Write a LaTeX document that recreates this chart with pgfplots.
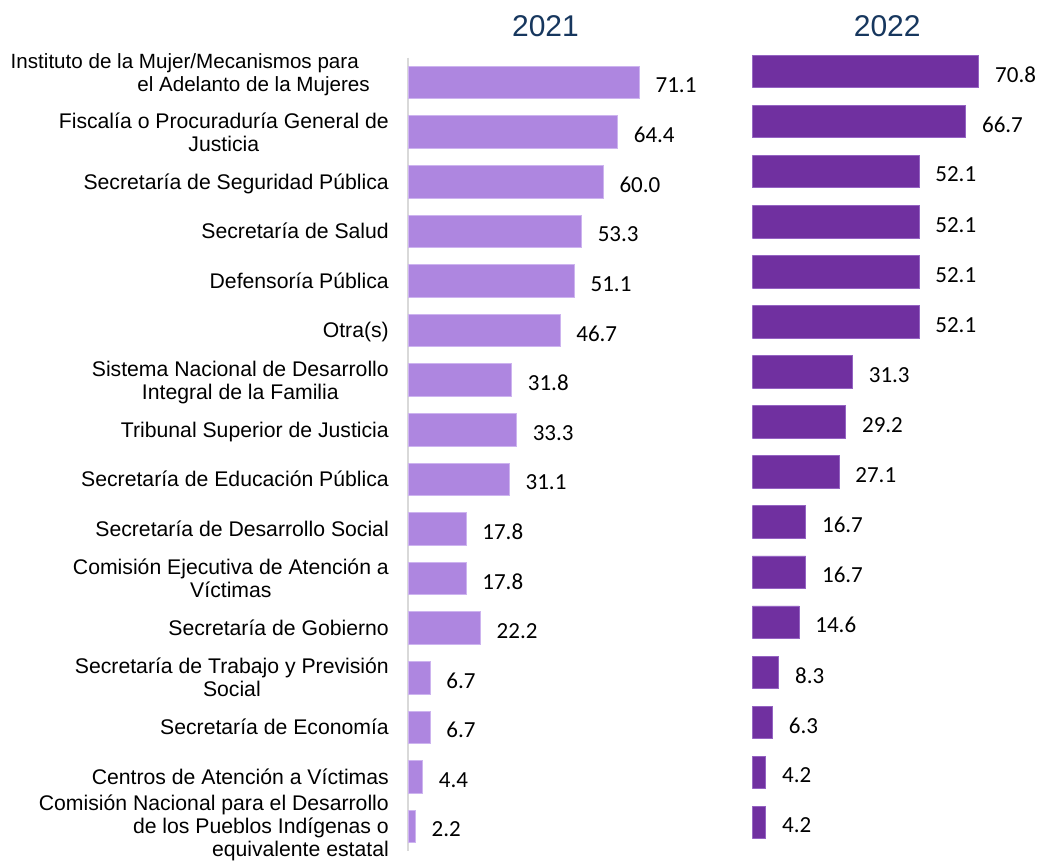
\documentclass[border=0pt]{standalone}
\usepackage{fontspec}
\setmainfont{Liberation Sans}
\newfontfamily\valfont{Carlito}
\usepackage{pgfplots}
\usepackage{pgfplotstable}
\pgfplotsset{compat=1.18}

\definecolor{bar21}{HTML}{AE86E0}
\definecolor{edge21}{HTML}{CDB4EF}
\definecolor{bar22}{HTML}{7030A0}
\definecolor{edge22}{HTML}{9463C2}
\definecolor{titleblue}{HTML}{17375E}
\definecolor{axisgray}{HTML}{D9D9D9}

% centred / right aligned multi-line category labels
\newcommand{\lc}[1]{\begin{tabular}{@{}c@{}}#1\end{tabular}}
\newcommand{\lr}[1]{\begin{tabular}{@{}r@{}}#1\end{tabular}}

\pgfplotstableread{
idx v21  v22
0   71.1 70.8
1   64.4 66.7
2   60.0 52.1
3   53.3 52.1
4   51.1 52.1
5   46.7 52.1
6   31.8 31.3
7   33.3 29.2
8   31.1 27.1
9   17.8 16.7
10  17.8 16.7
11  22.2 14.6
12  6.7  8.3
13  6.7  6.3
14  4.4  4.2
15  2.2  4.2
}\datatab

\pgfplotsset{
  panel/.style={
    xbar, scale only axis, enlargelimits=false,
    xmin=0, xmax=80, ymin=-0.5, ymax=15.5, y dir=reverse,
    xtick=\empty, bar width=32.5pt,
    point meta=x,
    nodes near coords={\pgfmathprintnumber[fixed,fixed zerofill,precision=1,assume math mode=true]{\pgfplotspointmeta}},
    every node near coord/.append style={font=\valfont\fontsize{23}{27}\selectfont,
      anchor=west, inner sep=0pt, xshift=16pt, yshift=-3pt, text=black},
  }
}

\begin{document}
\begin{tikzpicture}[x=1pt,y=1pt]
\useasboundingbox (0,0) rectangle (1042,-861);

\node[font=\fontsize{30}{36}\selectfont, text=titleblue, inner sep=0pt] at (545.5,-26) {2021};
\node[font=\fontsize{30}{36}\selectfont, text=titleblue, inner sep=0pt] at (887.2,-26) {2022};

\begin{axis}[panel,
    at={(408.2pt,-851.3pt)}, anchor=south west,
    width=260pt, height=793.6pt,
    axis x line=none, axis y line=left,
    axis line style={draw=axisgray, line width=1.7pt, -},
    ytick={0,...,15}, major tick length=0pt,
    yticklabel style={anchor=east, inner sep=0pt, xshift=-19.2pt, yshift=-2.8pt,
      font=\fontsize{21.2}{23}\selectfont, text=black},
    yticklabels={
      {\fontsize{20.6}{23}\selectfont\raisebox{10pt}[\height][\depth]{\lr{Instituto de la Mujer/Mecanismos para\hspace*{11pt}\\el Adelanto de la Mujeres}}\hspace*{19pt}},
      {\lc{Fiscalía o Procuraduría General de\\Justicia}},
      {\lc{Secretaría de Seguridad Pública}},
      {\lc{Secretaría de Salud}},
      {\lc{Defensoría Pública}},
      {\lc{Otra(s)}},
      {\lc{Sistema Nacional de Desarrollo\\Integral de la Familia}},
      {\lc{Tribunal Superior de Justicia}},
      {\lc{Secretaría de Educación Pública}},
      {\lc{Secretaría de Desarrollo Social}},
      {\lc{Comisión Ejecutiva de Atención a\\Víctimas}},
      {\lc{Secretaría de Gobierno}},
      {\lc{Secretaría de Trabajo y Previsión\\Social}},
      {\lc{Secretaría de Economía}},
      {\lc{Centros de Atención a Víctimas}},
      {\lr{Comisión Nacional para el Desarrollo\\de los Pueblos Indígenas o\\equivalente estatal}}
    },
  ]
\addplot[fill=bar21, draw=edge21, line width=0.75pt] table[x=v21, y=idx] {\datatab};
\end{axis}

\begin{axis}[panel,
    at={(752.3pt,-847.5pt)}, anchor=south west,
    width=256pt, height=801.1pt,
    hide axis,
  ]
\addplot[fill=bar22, draw=edge22, line width=0.75pt] table[x=v22, y=idx] {\datatab};
\end{axis}
\end{tikzpicture}
\end{document}
